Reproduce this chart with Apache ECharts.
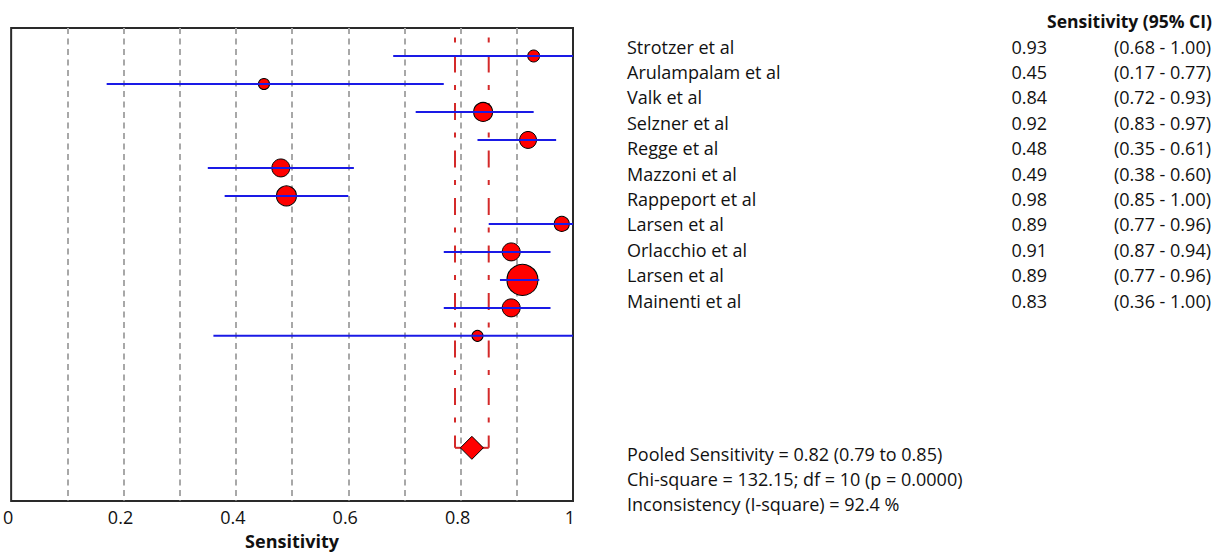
<!DOCTYPE html>
<html>
<head>
<meta charset="utf-8">
<script src="https://cdn.jsdelivr.net/npm/echarts@6/dist/echarts.min.js"></script>
<style>
html,body{margin:0;padding:0;background:#fff;}
#chart{width:1224px;height:555px;}
</style>
</head>
<body>
<div id="chart"></div>
<script>
// ---- data ----
const studies = ['Strotzer et al','Arulampalam et al','Valk et al','Selzner et al','Regge et al','Mazzoni et al','Rappeport et al','Larsen et al','Orlacchio et al','Larsen et al','Mainenti et al'];
const sens    = [0.93, 0.45, 0.84, 0.92, 0.48, 0.49, 0.98, 0.89, 0.91, 0.89, 0.83];
const ciLow   = [0.68, 0.17, 0.72, 0.83, 0.35, 0.38, 0.85, 0.77, 0.87, 0.77, 0.36];
const ciHigh  = [1.00, 0.77, 0.93, 0.97, 0.61, 0.60, 1.00, 0.96, 0.94, 0.96, 1.00];
const weights = [4.0, 3.4, 10.0, 8.0, 9.0, 11.1, 6.3, 9.0, 26.7, 9.0, 3.4];
const pooledSens = 0.82;
const pooledLow = 0.79;
const pooledHigh = 0.85;
const xTickLabels = ['0','0.2','0.4','0.6','0.8','1'];
const columnHeader = 'Sensitivity (95% CI)';
const axisTitle = 'Sensitivity';
const statsLines = [
  'Pooled Sensitivity = 0.82 (0.79 to 0.85)',
  'Chi-square = 132.15; df = 10 (p = 0.0000)',
  'Inconsistency (I-square) = 92.4 %'
];

// ---- layout ----
const FONT = '"Open Sans", "Liberation Sans", sans-serif';
const TEXT_COLOR = '#111';
const pooledRow = 15;
const yMax = 16.9;
const refTop = 0.34;

const chart = echarts.init(document.getElementById('chart'), null, {renderer: 'svg'});

function txt(x, y, text, font, align) {
  return {type:'text', x:x, y:y, silent:true, style:{text:text, font:font, fill:TEXT_COLOR, align:align, textAlign:align, verticalAlign:'middle', textVerticalAlign:'middle'}};
}
const graphics = [];
graphics.push(txt(1212, 21, columnHeader, 'bold 17.5px ' + FONT, 'right'));
studies.forEach((s, i) => {
  const y = 46.5 + i * 25.4;
  graphics.push(txt(627, y, s, '18px ' + FONT, 'left'));
  graphics.push(txt(1047, y, sens[i].toFixed(2), '18px ' + FONT, 'right'));
  graphics.push(txt(1211, y, '(' + ciLow[i].toFixed(2) + ' - ' + ciHigh[i].toFixed(2) + ')', '18px ' + FONT, 'right'));
});
statsLines.forEach((t, i) => {
  graphics.push(txt(627, 453.5 + i * 25, t, '18px ' + FONT, 'left'));
});

const option = {
  backgroundColor: '#fff',
  animation: false,
  grid: {left: 11, right: 651, top: 28, bottom: 47, show: true, borderColor: '#2a2a2a', borderWidth: 2, backgroundColor: 'transparent'},
  xAxis: {
    type: 'value', min: 0, max: 1, interval: 0.1,
    name: axisTitle, nameLocation: 'middle', nameGap: 31,
    nameTextStyle: {fontFamily: FONT, fontSize: 18, fontWeight: 'bold', color: TEXT_COLOR},
    axisLine: {show: false}, axisTick: {show: false},
    axisLabel: {
      fontFamily: FONT, fontSize: 18, color: TEXT_COLOR, margin: 7, padding: [0, 6, 0, 0],
      showMinLabel: true, showMaxLabel: true,
      formatter: function (v) {
        const idx = Math.round(v * 10);
        return idx % 2 === 0 ? xTickLabels[idx / 2] : '';
      }
    },
    splitLine: {show: true, showMinLine: false, showMaxLine: false, lineStyle: {color: '#a8a8a8', width: 2, type: [6, 4.5]}}
  },
  yAxis: {type: 'value', min: 0, max: yMax, inverse: true, show: false, splitLine: {show: false}},
  graphic: graphics,
  series: [
    {
      type: 'custom', z: 2, silent: true,
      data: [[pooledLow, pooledHigh, pooledSens, pooledRow]],
      encode: {x: [0, 1, 2], y: 3},
      renderItem: function (params, api) {
        const lo = api.value(0), hi = api.value(1), est = api.value(2), row = api.value(3);
        const style = {stroke: '#d42a2a', lineWidth: 2, lineDash: [5, 13, 17, 12.5], fill: null};
        const a1 = api.coord([lo, refTop]), a2 = api.coord([lo, row]), a3 = api.coord([est, row]);
        const b1 = api.coord([hi, refTop]), b2 = api.coord([hi, row]), b3 = api.coord([est, row]);
        return {type: 'group', children: [
          {type: 'polyline', shape: {points: [a1, a2]}, style: style},
          {type: 'polyline', shape: {points: [b1, b2]}, style: style},
          {type: 'line', shape: {x1: a2[0], y1: a2[1], x2: a3[0], y2: a3[1]}, style: {stroke: '#d42a2a', lineWidth: 2}},
          {type: 'line', shape: {x1: b2[0], y1: b2[1], x2: b3[0], y2: b3[1]}, style: {stroke: '#d42a2a', lineWidth: 2}}
        ]};
      }
    },
    {
      type: 'scatter', z: 3, silent: true,
      data: sens.map((v, i) => [v, i + 1, weights[i]]),
      symbol: 'circle',
      symbolSize: function (val) { return 6 * Math.sqrt(val[2]); },
      itemStyle: {color: '#ff0000', borderColor: '#000', borderWidth: 1, opacity: 1}
    },
    {
      type: 'custom', z: 4, silent: true,
      data: studies.map((s, i) => [ciLow[i], ciHigh[i], i + 1]),
      encode: {x: [0, 1], y: 2},
      renderItem: function (params, api) {
        const p1 = api.coord([api.value(0), api.value(2)]);
        const p2 = api.coord([api.value(1), api.value(2)]);
        return {type: 'line', shape: {x1: p1[0], y1: p1[1], x2: p2[0], y2: p2[1]}, style: {stroke: '#1a1ae6', lineWidth: 2}};
      }
    },
    {
      type: 'scatter', z: 5, silent: true,
      data: [[pooledSens, pooledRow]],
      symbol: 'diamond', symbolSize: 23,
      itemStyle: {color: '#ff0000', borderColor: '#000', borderWidth: 1, opacity: 1}
    }
  ]
};
chart.setOption(option);
</script>
</body>
</html>
